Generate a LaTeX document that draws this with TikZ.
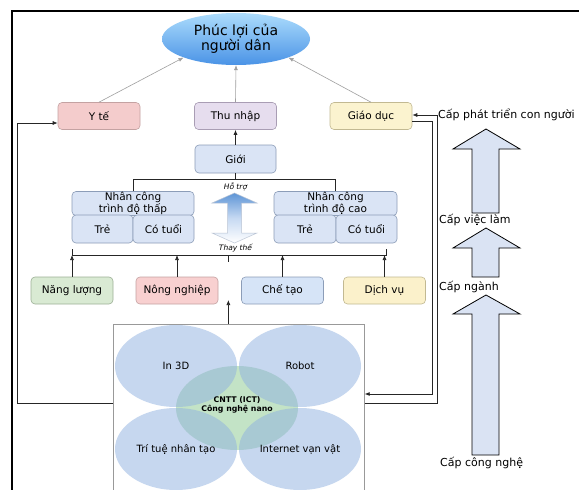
\documentclass[tikz,border=0pt]{standalone}
\usepackage{fontspec}
\setmainfont{DejaVu Sans}
\usetikzlibrary{shapes.geometric,arrows.meta,shadings}
\definecolor{wtop}{HTML}{ACDCFC}
\definecolor{wbot}{HTML}{4A93E6}
\definecolor{ytefill}{HTML}{F4CCCC}\definecolor{yteline}{HTML}{C4A2A2}
\definecolor{thufill}{HTML}{E6DDEE}\definecolor{thuline}{HTML}{A99DB4}
\definecolor{gdfill}{HTML}{FBF3CF}\definecolor{gdline}{HTML}{C2B992}
\definecolor{bfill}{HTML}{DAE4F5}\definecolor{bline}{HTML}{8C9DB8}
\definecolor{nangfill}{HTML}{D9EAD3}\definecolor{nangline}{HTML}{9DB096}
\definecolor{nongfill}{HTML}{F8D0D0}\definecolor{nongline}{HTML}{C4A2A2}
\definecolor{chefill}{HTML}{D6E4F7}\definecolor{cheline}{HTML}{8C9DB8}
\definecolor{dvfill}{HTML}{FBF1CB}\definecolor{dvline}{HTML}{C2B992}
\definecolor{outerblue}{HTML}{8FB0E0}
\definecolor{coregreen}{HTML}{C3E3C6}
\definecolor{fatfill}{HTML}{DAE3F3}
\definecolor{dbltop}{HTML}{5E95D6}
\definecolor{dblmid}{HTML}{C6D9F2}
\begin{document}
\begin{tikzpicture}[x=1pt,y=-1pt,
  rbox/.style={rounded corners=4pt, minimum width=82pt, minimum height=27pt, inner sep=1pt,
    font=\fontsize{10.5}{10.5}\selectfont, line width=0.6pt, align=center},
  arr/.style={-{Latex[length=5pt,width=4pt]}, line width=0.7pt, draw=black!85},
  garr/.style={-{Latex[length=5pt,width=4pt]}, line width=0.6pt, draw=gray!75},
  plain/.style={line width=0.7pt, draw=black!85},
  outer/.style={ellipse, minimum width=122pt, minimum height=82pt, inner sep=0pt,
    fill=outerblue, fill opacity=0.5, text opacity=1, font=\fontsize{10}{11}\selectfont},
  lbl/.style={anchor=west, inner sep=0pt, font=\fontsize{11}{12}\selectfont},
  small/.style={inner sep=0pt, font=\fontsize{7.5}{8}\itshape}]
\useasboundingbox (0,0) rectangle (579,490);
\clip (0,0) rectangle (579,490);
\fill[white] (0,0) rectangle (579,490);
% outer frame
\draw[line width=1.4pt] (590,11) -- (12,11) -- (12,500);

% top ellipse
\node[ellipse, minimum width=148pt, minimum height=52pt, inner sep=1pt, top color=wtop, bottom color=wbot,
  align=center, font=\fontsize{14}{15}\selectfont] (wel) at (236,39) {Phúc lợi của\\người dân};

% level boxes
\node[rbox, fill=ytefill, draw=yteline] (yte) at (99,116) {Y tế};
\node[rbox, fill=thufill, draw=thuline] (thu) at (235.5,116) {Thu nhập};
\node[rbox, fill=gdfill, draw=gdline] (gd) at (371,116) {Giáo dục};
\draw[garr] (yte.north) -- (wel.south west);
\draw[garr] (thu.north) -- (wel.south);
\draw[garr] (gd.north) -- (wel.south east);

% gioi
\node[rbox, fill=bfill, draw=bline, minimum width=81pt, minimum height=28pt] (gioi) at (235.5,159) {Giới};
\draw[arr] (gioi.north) -- (thu.south);

% labour groups
\node[rbox, fill=bfill, draw=bline, minimum width=122pt, minimum height=24pt, inner sep=0pt] (lowh) at (133,203.5) {Nhân công\\trình độ thấp};
\node[rbox, fill=bfill, draw=bline, minimum width=61pt, minimum height=28pt] (lowy) at (102.5,229) {Trẻ};
\node[rbox, fill=bfill, draw=bline, minimum width=61pt, minimum height=28pt] (lowo) at (163.5,229) {Có tuổi};
\node[rbox, fill=bfill, draw=bline, minimum width=123pt, minimum height=24pt, inner sep=0pt] (highh) at (335.5,203.5) {Nhân công\\trình độ cao};
\node[rbox, fill=bfill, draw=bline, minimum width=62pt, minimum height=28pt] (highy) at (305,229) {Trẻ};
\node[rbox, fill=bfill, draw=bline, minimum width=61pt, minimum height=28pt] (higho) at (366.5,229) {Có tuổi};
\draw[plain] (lowh.north) -- ++(0,-12) -| (highh.north);
\draw[plain] (gioi.south) -- ++(0,7);

% double arrow
\node[small] (hotro) at (235.5,187) {Hỗ trợ};
\path[draw=bline!60, line width=0.5pt, top color=dbltop, bottom color=white, middle color=dblmid]
  (234.5,193) -- (257,203) -- (241.5,203) -- (241.5,233) -- (257,233) -- (234.5,243)
  -- (212,233) -- (227.5,233) -- (227.5,203) -- (212,203) -- cycle;
\node[small] (thay) at (235.5,248) {Thay thế};

% bracket
\coordinate (brk) at (0,255);
\draw[plain] (72,249) -- (72,255) -- (386,255) -- (386,249);
\draw[plain] (228,255) -- (228,262);

% sectors
\node[rbox, fill=nangfill, draw=nangline] (nang) at (72,290.5) {Năng lượng};
\node[rbox, fill=nongfill, draw=nongline] (nong) at (177,290.5) {Nông nghiệp};
\node[rbox, fill=chefill, draw=cheline] (che) at (282.5,290.5) {Chế tạo};
\node[rbox, fill=dvfill, draw=dvline] (dv) at (384.5,290.5) {Dịch vụ};
\foreach \s in {nang,nong,che,dv} \draw[arr] (\s.north) -- (\s.north |- brk);

% technology box
\node[draw=gray!80, line width=0.7pt, minimum width=251pt, minimum height=185pt, anchor=north west, inner sep=0pt] (tech) at (113,324) {};
\draw[arr] ([xshift=-10.5pt]tech.north) -- ++(0,-24);
\node[ellipse, minimum width=122pt, minimum height=84pt, inner sep=0pt, fill=coregreen] (core) at (237,408) {};
\node[outer] (in3d) at (176,366) {In 3D};
\node[outer] (robot) at (300,366) {Robot};
\node[outer] (ai) at (176,449) {Trí tuệ nhân tạo};
\node[outer] (iot) at (300,449) {Internet vạn vật};
\node[align=center, inner sep=0pt, font=\fontsize{7.8}{9}\bfseries] (coretext) at (237,404.5) {CNTT (ICT)\\Công nghệ nano};

% feedback loops
\draw[arr] (tech.west |- 0,403) -- (17,403) -- (17,123) -- (yte.west |- 0,123);
\draw[arr] (tech.east |- 0,403) -- (437,403) -- (437,115) -- (gd.east |- 0,115);
\draw[arr] (gd.east |- 0,121) -- (432,121) -- (432,394) -- (tech.east |- 0,394);

% right column
\node[lbl] (l1) at (438,115) {Cấp phát triển con người};
\node[lbl] (l2) at (439,220) {Cấp việc làm};
\node[lbl] (l3) at (439,287) {Cấp ngành};
\node[lbl] (l4) at (440,463) {Cấp công nghệ};
\newcommand\fatuparrow[3]{%
  \filldraw[fill=fatfill, draw=black, line width=0.8pt]
    (486,#1) -- (520,#2) -- (499,#2) -- (499,#3) -- (472,#3) -- (472,#2) -- (453,#2) -- cycle;}
\fatuparrow{129}{149}{213}
\fatuparrow{228}{248}{277}
\fatuparrow{295}{314}{455}
\end{tikzpicture}
\end{document}
